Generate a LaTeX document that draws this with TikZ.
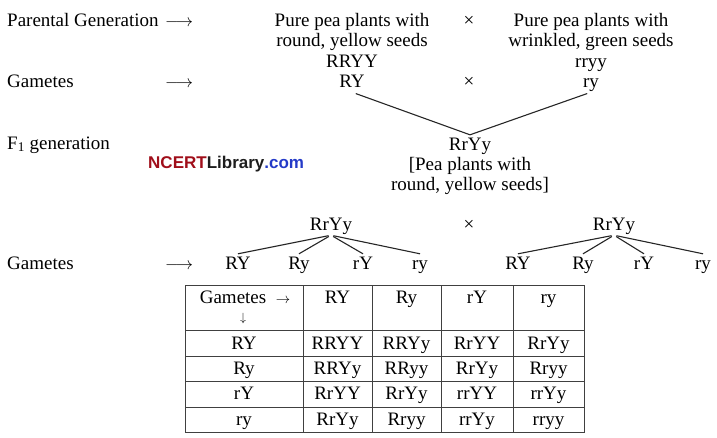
\documentclass[tikz,border=0pt]{standalone}
\usepackage{fontspec}
\setmainfont{Liberation Serif}
\newfontfamily\wmfont{Liberation Sans}
\definecolor{ncertred}{RGB}{160,14,26}
\definecolor{ncertblue}{RGB}{36,58,200}
\definecolor{libgray}{RGB}{30,30,30}

\tikzset{
	txt/.style={anchor=base, inner sep=0pt, text height=15pt, text depth=5pt, font=\fontsize{19}{20.5}\selectfont},
	lbl/.style={txt, anchor=base west},
	link/.style={line width=1.1pt, black!85},
	grid/.style={line width=0.9pt, black!75}
}

\begin{document}
\begin{tikzpicture}[x=1pt,y=-1pt]
		\useasboundingbox (0,0) rectangle (717,437);

		% parental generation
		\node[lbl] (parlbl) at (7,26) {Parental Generation};
		\node[lbl] (pararr) at (165,26) {$\longrightarrow$};
		\node[txt] (p1a) at (352,26) {Pure pea plants with};
		\node[txt] (p1b) at (352,46.5) {round, yellow seeds};
		\node[txt] (p1c) at (352,67) {RRYY};
		\node[txt] (x1) at (469,26) {×};
		\node[txt] (p2a) at (591,26) {Pure pea plants with};
		\node[txt] (p2b) at (591,46.5) {wrinkled, green seeds};
		\node[txt] (p2c) at (591,67) {rryy};

		% gametes of parents
		\node[lbl] (gamlbl) at (7,87) {Gametes};
		\node[lbl] (gamarr) at (165,87) {$\longrightarrow$};
		\node[txt] (g1) at (352,87) {RY};
		\node[txt] (x2) at (469,87) {×};
		\node[txt] (g2) at (591,87) {ry};

		% F1 generation
		\node[lbl] (f1lbl) at (7,149) {F\textsubscript{1} generation};
		\node[txt] (f1) at (470,150) {RrYy};
		\node[txt] (f1a) at (470,170) {[Pea plants with};
		\node[txt] (f1b) at (470,190.5) {round, yellow seeds]};
		\draw[link, shorten <=4pt] (g1.south) -- (f1.north);
		\draw[link, shorten <=4pt] (g2.south) -- (f1.north);

		% watermark
		\node[anchor=base west, inner sep=0pt, font=\wmfont\bfseries\fontsize{17}{20}\selectfont] (wm) at (148,168) {\textcolor{ncertred}{NCERT}\textcolor{libgray}{Library}\textcolor{ncertblue}{.com}};

		% selfing of F1
		\node[txt] (s1) at (331,230) {RrYy};
		\node[txt] (x3) at (469,230) {×};
		\node[txt] (s2) at (614,230) {RrYy};

		% gametes of F1
		\node[lbl] (gamlbl2) at (7,269) {Gametes};
		\node[lbl] (gamarr2) at (165,269) {$\longrightarrow$};
		\node[txt] (a1) at (238,269) {RY};
		\node[txt] (a2) at (299,269) {Ry};
		\node[txt] (a3) at (363,269) {rY};
		\node[txt] (a4) at (420,269) {ry};
		\node[txt] (b1) at (518,269) {RY};
		\node[txt] (b2) at (583,269) {Ry};
		\node[txt] (b3) at (644,269) {rY};
		\node[txt] (b4) at (703,269) {ry};
		\draw[link, shorten <=2.5pt] (s1.south) -- (a1.north);
		\draw[link, shorten <=2.5pt] (s1.south) -- (a2.north);
		\draw[link, shorten <=2.5pt] (s1.south) -- (a3.north);
		\draw[link, shorten <=2.5pt] (s1.south) -- (a4.north);
		\draw[link, shorten <=2.5pt] (s2.south) -- (b1.north);
		\draw[link, shorten <=2.5pt] (s2.south) -- (b2.north);
		\draw[link, shorten <=2.5pt] (s2.south) -- (b3.north);
		\draw[link, shorten <=2.5pt] (s2.south) -- (b4.north);

		% checkerboard
		\draw[grid] (185,285) rectangle (584,432);
		\draw[grid] (185,330) -- (584,330);
		\draw[grid] (185,356) -- (584,356);
		\draw[grid] (185,381) -- (584,381);
		\draw[grid] (185,407) -- (584,407);
		\draw[grid] (303,285) -- (303,432);
		\draw[grid] (372,285) -- (372,432);
		\draw[grid] (441,285) -- (441,432);
		\draw[grid] (513,285) -- (513,432);

		% header row
		\node[txt, text depth=1pt] (h0) at (245,303) {Gametes\enspace{\fontsize{14}{14}\selectfont$\rightarrow$}};
		\node[txt, text height=9pt, text depth=2pt, font=\fontsize{13}{13}\selectfont] (h0d) at (243,321.5) {$\downarrow$};
		\node[txt] (h1) at (337.5,303) {RY};
		\node[txt] (h2) at (406.5,303) {Ry};
		\node[txt] (h3) at (477,303) {rY};
		\node[txt] (h4) at (548.5,303) {ry};

		% row RY
		\node[txt] (r1) at (244,349) {RY};
		\node[txt] (c11) at (337.5,349) {RRYY};
		\node[txt] (c12) at (406.5,349) {RRYy};
		\node[txt] (c13) at (477,349) {RrYY};
		\node[txt] (c14) at (548.5,349) {RrYy};

		% row Ry
		\node[txt] (r2) at (244,374) {Ry};
		\node[txt] (c21) at (337.5,374) {RRYy};
		\node[txt] (c22) at (406.5,374) {RRyy};
		\node[txt] (c23) at (477,374) {RrYy};
		\node[txt] (c24) at (548.5,374) {Rryy};

		% row rY
		\node[txt] (r3) at (244,399.5) {rY};
		\node[txt] (c31) at (337.5,399.5) {RrYY};
		\node[txt] (c32) at (406.5,399.5) {RrYy};
		\node[txt] (c33) at (477,399.5) {rrYY};
		\node[txt] (c34) at (548.5,399.5) {rrYy};

		% row ry
		\node[txt] (r4) at (244,425) {ry};
		\node[txt] (c41) at (337.5,425) {RrYy};
		\node[txt] (c42) at (406.5,425) {Rryy};
		\node[txt] (c43) at (477,425) {rrYy};
		\node[txt] (c44) at (548.5,425) {rryy};
	\end{tikzpicture}
\end{document}
